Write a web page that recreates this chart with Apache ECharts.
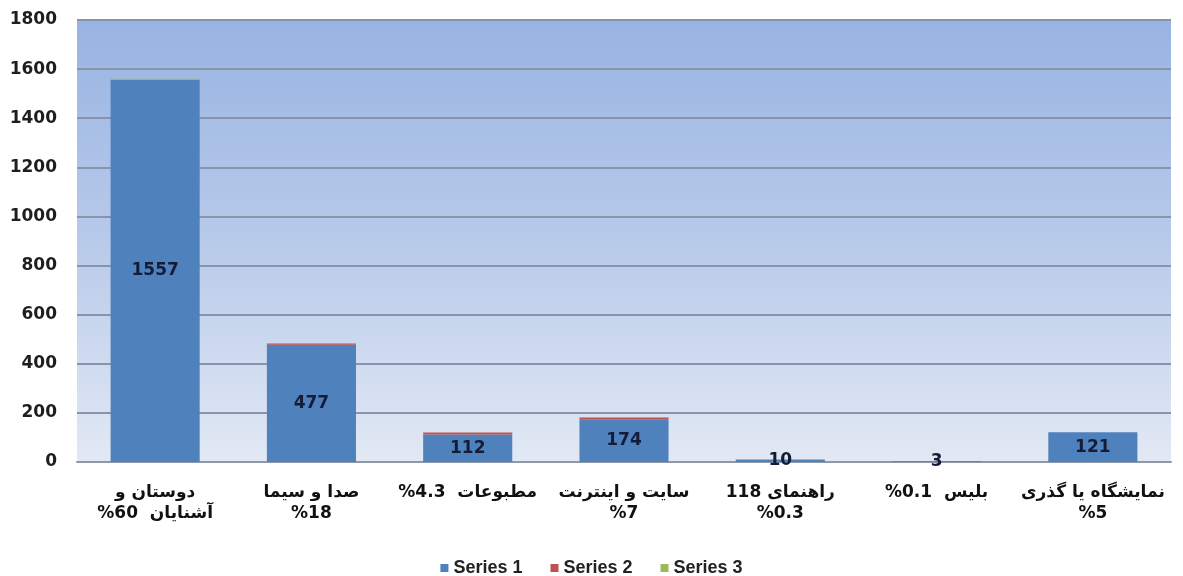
<!DOCTYPE html>
<html>
<head>
<meta charset="utf-8">
<script src="https://cdn.jsdelivr.net/npm/echarts@6/dist/echarts.min.js"></script>
<style>html,body{margin:0;padding:0;background:#fff}#c{width:1183px;height:576px}</style>
</head>
<body>
<div id="c"></div>
<script>
// category labels: each line given as visual left-to-right pieces
const categories = [
  "دوستان و\n{n|%60}{a|  آشنایان}",
  "صدا و سیما\n{n|%18}",
  "{n|%4.3}{a|  مطبوعات}",
  "سایت و اینترنت\n{n|%7}",
  "{n|118}{a| راهنمای}\n{n|%0.3}",
  "{n|%0.1}{a|  بلیس}",
  "نمایشگاه یا گذری\n{n|%5}"
];
const series1 = [1557, 477, 112, 174, 10, 3, 121];
const series2 = [0, 6, 8, 7, 0, 0, 0];
const series3 = [4, 0, 0, 0, 0, 0, 0];
const yTicks = [0, 200, 400, 600, 800, 1000, 1200, 1400, 1600, 1800];

const lblFont = { fontFamily: 'DejaVu Sans', fontWeight: 'bold', fontSize: 17, lineHeight: 21, color: '#111' };

const chart = echarts.init(document.getElementById('c'));
chart.setOption({
  animation: false,
  grid: {
    left: 77, right: 12, top: 20, bottom: 114,
    show: true,
    borderWidth: 0,
    backgroundColor: {
      type: 'linear', x: 0, y: 0, x2: 0, y2: 1,
      colorStops: [
        { offset: 0, color: '#98B4E2' },
        { offset: 0.5, color: '#B8CAEA' },
        { offset: 1, color: '#E2E9F4' }
      ]
    }
  },
  legend: {
    bottom: -6,
    left: 'center',
    itemWidth: 8, itemHeight: 8, itemGap: 28,
    icon: 'rect',
    textStyle: { fontFamily: 'Liberation Sans', fontWeight: 'bold', fontSize: 18, color: '#222' },
    data: ['Series 1', 'Series 2', 'Series 3']
  },
  xAxis: {
    type: 'category',
    data: categories,
    axisLine: { lineStyle: { color: '#8E98A8', width: 2 } },
    axisTick: { show: false },
    axisLabel: Object.assign({
      interval: 0,
      margin: 20,
      rich: { n: Object.assign({}, lblFont), a: Object.assign({}, lblFont) }
    }, lblFont)
  },
  yAxis: {
    type: 'value',
    min: 0, max: 1800, interval: 200,
    axisLine: { show: false },
    axisTick: { show: false },
    splitLine: { lineStyle: { color: '#8794AC', width: 2 } },
    axisLabel: {
      margin: 20,
      fontFamily: 'DejaVu Sans',
      fontWeight: 'bold',
      fontSize: 17,
      color: '#1e1e1e',
      formatter: v => yTicks.includes(v) ? String(v) : ''
    }
  },
  series: [
    {
      name: 'Series 1', type: 'bar', stack: 's', barWidth: '57%',
      data: series1,
      itemStyle: { color: '#4F81BD' },
      label: {
        show: true, position: 'inside',
        fontFamily: 'DejaVu Sans', fontWeight: 'bold', fontSize: 17, color: '#141C38'
      }
    },
    {
      name: 'Series 2', type: 'bar', stack: 's',
      data: series2,
      itemStyle: { color: '#C0504D' }
    },
    {
      name: 'Series 3', type: 'bar', stack: 's',
      data: series3,
      itemStyle: { color: '#9BBB59' }
    }
  ]
});
</script>
</body>
</html>
